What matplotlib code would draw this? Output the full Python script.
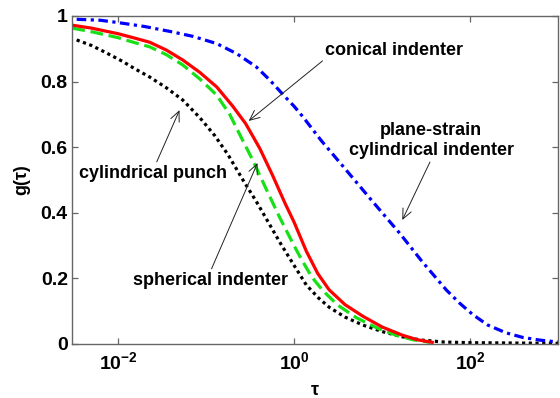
import matplotlib
matplotlib.use("Agg")
import matplotlib.pyplot as plt
from matplotlib.ticker import FixedLocator, FixedFormatter, NullLocator

# ---- data ----
tau_conical = [0.00302, 0.00501, 0.01, 0.0158, 0.0229, 0.0355, 0.0543, 0.0851, 0.132, 0.2,
               0.282, 0.407, 0.569, 0.794, 1.0, 1.38, 1.86, 2.51, 3.8, 6.03,
               10, 17, 25.1, 37.2]
g_conical = [0.972, 0.963, 0.946, 0.932, 0.920, 0.896, 0.866, 0.828, 0.784, 0.726,
             0.672, 0.597, 0.515, 0.428, 0.372, 0.283, 0.215, 0.165, 0.120, 0.085,
             0.052, 0.027, 0.013, 0.005]

tau_spherical = [0.00302, 0.00501, 0.01, 0.0158, 0.0229, 0.0355, 0.0543, 0.0851, 0.132, 0.186,
                 0.251, 0.339, 0.484, 0.684, 1.0, 1.216, 1.585, 2.138, 3.162, 5.129,
                 8.913, 14.45, 22.39, 35.48]
g_spherical = [0.963, 0.952, 0.934, 0.918, 0.906, 0.882, 0.851, 0.808, 0.759, 0.700,
               0.630, 0.561, 0.472, 0.387, 0.300, 0.258, 0.205, 0.162, 0.118, 0.080,
               0.048, 0.027, 0.013, 0.005]

tau_punch = [0.00339, 0.00501, 0.00708, 0.0112, 0.0158, 0.0229, 0.0355, 0.0543, 0.0851, 0.126,
             0.178, 0.263, 0.372, 0.501, 0.708, 1.0, 1.38, 1.905, 2.512, 3.802,
             6.026, 10, 16.98, 28.18, 50.12, 100, 316, 1000]
g_punch = [0.927, 0.910, 0.890, 0.862, 0.838, 0.814, 0.781, 0.744, 0.690, 0.635,
           0.577, 0.500, 0.435, 0.375, 0.305, 0.240, 0.180, 0.140, 0.112, 0.082,
           0.058, 0.038, 0.022, 0.012, 0.006, 0.004, 0.003, 0.002]

tau_plane = [0.00339, 0.00631, 0.01, 0.02, 0.0389, 0.0708, 0.132, 0.224, 0.372, 0.525,
             0.741, 1.0, 1.259, 2.042, 3.981, 7.244, 11.22, 15.85, 28.84, 53.70,
             75.86, 107.2, 158.5, 257, 398, 617, 1000]
g_plane = [0.990, 0.987, 0.980, 0.968, 0.953, 0.938, 0.916, 0.885, 0.845, 0.806,
           0.762, 0.725, 0.693, 0.620, 0.528, 0.445, 0.385, 0.338, 0.250, 0.165,
           0.125, 0.090, 0.058, 0.034, 0.020, 0.012, 0.006]

xtick_vals = [1e-2, 1e0, 1e2]
xtick_labels = [r'$10^{-2}$', r'$10^{0}$', r'$10^{2}$']
ytick_vals = [0, 0.2, 0.4, 0.6, 0.8, 1.0]
ytick_labels = ['0', '0.2', '0.4', '0.6', '0.8', '1']

plt.rcParams['font.family'] = ['Liberation Sans', 'DejaVu Sans']
plt.rcParams['font.weight'] = 'bold'
plt.rcParams['mathtext.fontset'] = 'custom'
plt.rcParams['mathtext.rm'] = 'Liberation Sans:bold'
plt.rcParams['mathtext.it'] = 'Liberation Sans:bold'
plt.rcParams['mathtext.bf'] = 'Liberation Sans:bold'

fig = plt.figure(figsize=(5.6, 3.98), dpi=100)
ax = fig.add_axes([72/560, 1-344/398, (558-72)/560, (344-16)/398])

lw = 2.3
ax.plot(tau_punch, g_punch, color='black', lw=lw, dashes=(1, 1.1))
ax.plot(tau_spherical, g_spherical, color='#16e016', lw=lw, dashes=(4, 1.8))
ax.plot(tau_conical, g_conical, color='#ff0000', lw=lw, solid_joinstyle='round')
ax.plot(tau_plane, g_plane, color='#0000ff', lw=lw, dashes=(3, 1.4, 1, 1.4))

ax.set_xscale('log')
ax.set_xlim(0.003, 1000)
ax.set_ylim(0, 1)
ax.xaxis.set_major_locator(FixedLocator(xtick_vals))
ax.xaxis.set_major_formatter(FixedFormatter(xtick_labels))
ax.xaxis.set_minor_locator(NullLocator())
ax.yaxis.set_major_locator(FixedLocator(ytick_vals))
ax.yaxis.set_major_formatter(FixedFormatter(ytick_labels))

for sp in ax.spines.values():
    sp.set_color('#666666')
    sp.set_linewidth(1.0)
ax.tick_params(axis='both', which='major', direction='in', length=4.5, width=0.9,
               color='#666666', top=True, right=True, labelsize=14, labelcolor='black')
ax.tick_params(axis='x', pad=5)
ax.tick_params(axis='y', pad=3)

ax.set_xlabel('τ', fontsize=13, fontweight='bold')
ax.set_ylabel('g(τ)', fontsize=13, fontweight='bold')
ax.xaxis.set_label_coords(0.5, -0.115)
ax.yaxis.set_label_coords(-0.085, 0.5)

arrow = dict(arrowstyle='->,head_length=0.55,head_width=0.25', color='#222222', lw=0.7,
             shrinkA=0, shrinkB=0)
fs = 13

a = dict(arrow); a['relpos'] = (0.0, 0.0)
ax.annotate('conical indenter', xy=(0.305, 0.68), xytext=(13.8, 0.896),
            ha='center', va='center', fontsize=fs, fontweight='bold', arrowprops=a)

a = dict(arrow); a['relpos'] = (0.5, 0.0)
ax.annotate('plane-strain\ncylindrical indenter', xy=(17, 0.378), xytext=(36.3, 0.62),
            ha='center', va='center', multialignment='center', linespacing=1.25,
            fontsize=fs, fontweight='bold', arrowprops=a)

a = dict(arrow); a['relpos'] = (0.52, 1.0)
ax.annotate('cylindrical punch', xy=(0.050, 0.713), xytext=(0.0247, 0.521),
            ha='center', va='center', fontsize=fs, fontweight='bold', arrowprops=a)

a = dict(arrow); a['relpos'] = (0.5, 1.0)
ax.annotate('spherical indenter', xy=(0.385, 0.552), xytext=(0.112, 0.195),
            ha='center', va='center', fontsize=fs, fontweight='bold', arrowprops=a)

fig.savefig('out.png', dpi=100)
